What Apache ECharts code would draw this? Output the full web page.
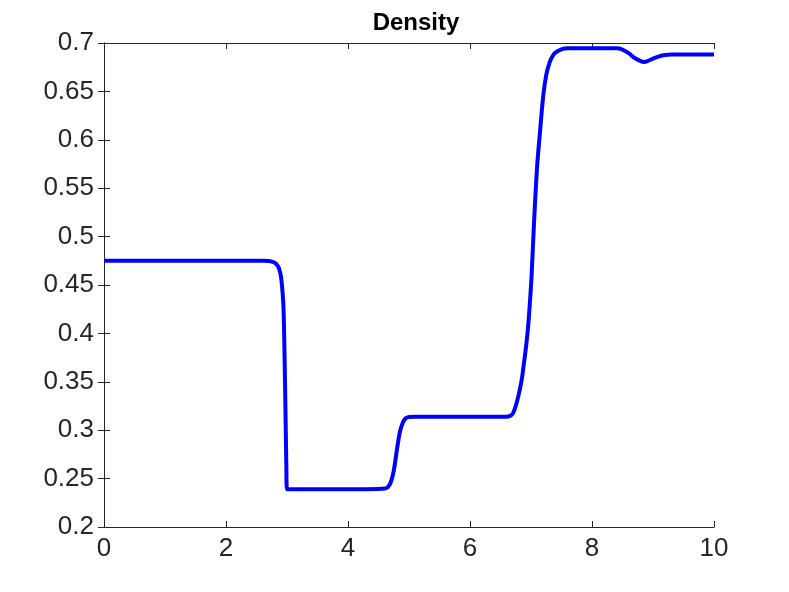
<!DOCTYPE html>
<html>
<head>
<meta charset="utf-8">
<script src="https://cdn.jsdelivr.net/npm/echarts@6/dist/echarts.min.js"></script>
<style>
  html, body { margin: 0; padding: 0; background: #fff; }
  #chart { width: 789px; height: 592px; }
</style>
</head>
<body>
<div id="chart"></div>
<script>
// x positions and density values
const xs = [
  0, 1, 2, 2.6, 2.7, 2.75, 2.8, 2.84, 2.87, 2.9, 2.92, 2.94, 2.95, 2.97, 2.99, 3.0,
  3.5, 4.0, 4.5, 4.6, 4.65, 4.7, 4.75, 4.8, 4.85, 4.9, 4.95, 5.0, 5.1,
  6.0, 6.6, 6.65, 6.7, 6.74, 6.78, 6.82, 6.85, 6.88, 6.92, 6.95, 6.98, 7.01, 7.05,
  7.1, 7.15, 7.2, 7.25, 7.3, 7.35, 7.4, 7.5, 7.6,
  8.0, 8.4, 8.5, 8.6, 8.7, 8.8, 8.85, 8.9, 9.0, 9.1, 9.2, 9.3, 10
]
const density = [
  0.475, 0.475, 0.475, 0.475, 0.4748, 0.4742, 0.473, 0.4705, 0.467, 0.459, 0.448, 0.43, 0.41, 0.34, 0.26, 0.239,
  0.239, 0.239, 0.2392, 0.2397, 0.241, 0.246, 0.258, 0.279, 0.298, 0.308, 0.3125, 0.3137, 0.314,
  0.314, 0.314, 0.3145, 0.317, 0.323, 0.332, 0.343, 0.353, 0.367, 0.387, 0.405, 0.43, 0.46, 0.515,
  0.572, 0.61, 0.645, 0.667, 0.679, 0.686, 0.69, 0.6935, 0.6945,
  0.6945, 0.6945, 0.6932, 0.6895, 0.6845, 0.6812, 0.6805, 0.681, 0.6838, 0.6862, 0.6875, 0.688, 0.688
]
const xTicks = [0, 2, 4, 6, 8, 10]
const yTicks = [0.2, 0.25, 0.3, 0.35, 0.4, 0.45, 0.5, 0.55, 0.6, 0.65, 0.7]

const font = "'Liberation Sans', Arial, Helvetica, sans-serif"
const axisColor = '#262626'

const chart = echarts.init(document.getElementById('chart'))

function boxAxis(extra) {
  return Object.assign({
    type: 'value',
    axisLine: { show: true, lineStyle: { color: axisColor, width: 1 } },
    axisTick: { show: true, inside: true, length: 6, lineStyle: { color: axisColor } },
    splitLine: { show: false },
  }, extra)
}

chart.setOption({
  animation: false,
  title: {
    text: 'Density',
    left: 411,
    top: 6,
    textAlign: 'center',
    textStyle: { fontFamily: font, fontSize: 24, fontWeight: 'bold', color: '#000' },
  },
  grid: { left: 104, right: 75, top: 43, bottom: 65 },
  xAxis: [
    boxAxis({
      min: xTicks[0], max: xTicks[xTicks.length - 1], interval: 2,
      axisLabel: { color: axisColor, fontFamily: font, fontSize: 26, margin: 9 },
    }),
    boxAxis({
      position: 'top',
      min: xTicks[0], max: xTicks[xTicks.length - 1], interval: 2,
      axisLabel: { show: false },
    }),
  ],
  yAxis: [
    boxAxis({
      min: yTicks[0], max: yTicks[yTicks.length - 1], interval: 0.05,
      axisLabel: {
        color: axisColor, fontFamily: font, fontSize: 26, margin: 10,
        formatter: (v) => String(parseFloat(v.toFixed(2))),
      },
    }),
    boxAxis({
      position: 'right',
      min: yTicks[0], max: yTicks[yTicks.length - 1], interval: 0.05,
      axisLabel: { show: false },
    }),
  ],
  series: [{
    type: 'line',
    data: xs.map((x, i) => [x, density[i]]),
    showSymbol: false,
    smooth: 0.3,
    lineStyle: { color: '#0000ff', width: 4 },
  }],
})

window.addEventListener('resize', () => chart.resize())
</script>
</body>
</html>
